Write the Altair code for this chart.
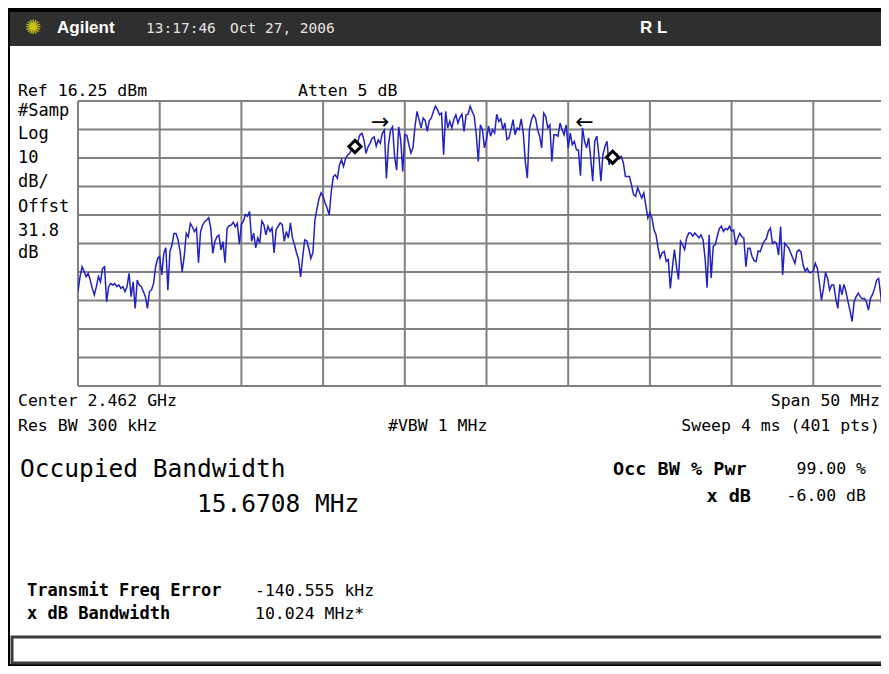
import altair as alt
import pandas as pd

# ---------------- data ----------------
START_MHZ = 2437.0          # center 2.462 GHz - 25 MHz
STEP_MHZ = 0.125            # 50 MHz span, 401 sweep points
REF_DBM = 16.25
DB_PER_DIV = 10.0

trace_div0 = [-50.5, -45.4, -41.9, -43.6, -45.4, -44.2, -46.6, -49.5, -51.8, -48.9,
              -45.4, -47.2, -42.5, -41.9, -54.2, -48.9, -47.8, -48.3, -47.8, -48.9,
              -48.3, -49.5, -48.9, -50.6, -48.9, -44.2, -52.4, -47.2, -56.5, -46.6,
              -48.3, -48.9, -50.6, -52.4, -56.5, -50.6, -50.0, -47.8, -41.9, -39.0]
trace_div1 = [-38.3, -44.8, -37.2, -35.2, -50.1, -36.6, -34.3, -30.2, -30.2, -32.5,
              -36.6, -43.7, -38.3, -30.2, -31.4, -26.7, -27.9, -29.6, -28.4, -40.5,
              -29.6, -27.3, -26.1, -25.5, -24.7, -28.4, -37.2, -33.1, -31.4, -30.8,
              -36.0, -33.1, -40.5, -28.4, -27.5, -27.3, -26.3, -27.9, -26.7, -34.0]
trace_div2 = [-27.0, -25.9, -23.6, -24.2, -22.5, -33.0, -30.1, -35.3, -31.8, -33.6,
              -25.9, -27.1, -30.7, -27.7, -29.5, -28.3, -37.1, -28.9, -27.7, -26.5,
              -27.1, -33.0, -29.5, -31.8, -26.5, -31.8, -34.2, -37.1, -39.4, -45.5,
              -38.5, -32.5, -32.8, -35.5, -39.0, -37.0, -25.5, -21.5, -18.0, -16.0]
trace_div3 = [-17.3, -19.6, -21.4, -23.7, -15.5, -10.3, -9.7, -10.9, -6.2, -4.4,
              -6.7, -3.9, -2.7, -2.1, -0.7, 0.0, 0.4, 2.0, 4.3, 4.9,
              2.6, -2.1, 0.2, 1.4, 3.1, 3.7, 0.4, 2.6, 1.4, 4.9,
              6.0, -10.9, 0.8, 6.0, 7.2, -3.3, -8.0, 7.2, 2.6, -8.5]
trace_div4 = [4.4, 4.2, 0.9, -2.0, -0.2, 7.4, 12.6, 9.7, 6.8, 10.3,
              9.4, 5.6, 9.4, 10.3, 12.6, 14.4, 13.2, 11.4, 12.0, -2.6,
              12.6, 6.8, 9.1, 6.8, 9.7, 11.4, 8.5, 10.5, 11.6, 5.6,
              11.4, 11.6, 14.4, 12.6, 10.9, 4.4, -5.0, 7.9, 6.2, -0.2]
trace_div5 = [2.7, 7.4, 3.9, 6.2, 5.0, 11.6, 9.1, 10.0, 6.2, 8.5,
              2.7, 3.3, 6.2, 9.7, 4.4, 6.8, 6.2, 10.0, 5.0, -5.0,
              -10.8, 6.2, 9.7, 11.4, 10.3, 6.2, 3.9, -0.2, 12.0, 10.9,
              6.8, 7.9, -5.0, 4.4, 4.4, 3.9, 8.5, 6.2, 4.4, 7.9]
trace_div6 = [-0.2, 5.0, 0.9, 2.1, -0.8, -1.0, -10.0, 6.8, 2.1, -0.2,
              3.3, -3.7, -11.9, 2.1, 3.9, -2.6, -11.9, -2.6, 0.3, 2.1,
              -6.1, -4.3, -3.7, -4.9, -2.6, -4.0, -3.2, -5.5, -10.2, -10.2,
              -10.2, -13.3, -16.6, -17.2, -14.1, -16.0, -17.8, -16.0, -20.4, -24.8]
trace_div7 = [-23.0, -24.8, -28.9, -30.7, -35.3, -38.8, -37.1, -36.5, -40.0, -39.4,
              -49.5, -42.3, -35.9, -41.8, -46.4, -33.0, -34.2, -35.9, -31.8, -30.1,
              -30.1, -31.2, -30.1, -30.9, -31.8, -30.7, -32.4, -38.8, -49.3, -30.7,
              -45.8, -34.7, -34.2, -31.2, -28.5, -27.7, -29.5, -28.5, -28.9, -27.7]
trace_div8 = [-29.4, -29.0, -34.3, -31.9, -30.2, -31.3, -31.9, -41.9, -35.4, -35.4,
              -38.3, -39.7, -40.1, -36.4, -36.6, -34.5, -32.9, -32.1, -29.4, -28.4,
              -33.7, -33.1, -33.7, -37.8, -27.8, -44.8, -33.7, -34.5, -35.4, -37.2,
              -38.9, -40.7, -36.6, -36.0, -36.8, -41.3, -43.4, -42.5, -43.9, -43.9]
trace_div9 = [-43.4, -40.7, -42.5, -47.7, -53.6, -49.5, -43.9, -46.0, -50.1, -48.3,
              -48.3, -53.0, -56.5, -48.1, -51.8, -48.1, -50.7, -54.2, -57.4, -61.1,
              -54.2, -52.4, -51.2, -52.4, -53.2, -53.0, -54.2, -57.1, -53.0, -51.6,
              -49.5, -46.6, -46.0, -51.8, -58.9, -45.4, -54.2, -53.0, -50.0, -52.0, -51.0]

level_dbm = (trace_div0 + trace_div1 + trace_div2 + trace_div3 + trace_div4 +
             trace_div5 + trace_div6 + trace_div7 + trace_div8 + trace_div9)
freq_mhz = [START_MHZ + STEP_MHZ * i for i in range(len(level_dbm))]

marker_freq = [2453.95, 2469.72]
marker_dbm = [0.3, -3.5]
arrow_freq = [2455.5, 2468.0]
arrow_dbm = [8.9, 8.9]
arrow_glyph = ["\u2192", "\u2190"]

grid_freq = [2437, 2442, 2447, 2452, 2457, 2462, 2467, 2472, 2477, 2482]
grid_dbm = [16.25, 6.25, -3.75, -13.75, -23.75, -33.75, -43.75, -53.75, -63.75, -73.75, -83.75]

# ---------------- layout ----------------
PLOT_LEFT, PLOT_TOP = 78, 101
PX_PER_DIV = 81.7
SVG_W = 873                 # keep the svg inside the page body so it is not shrunk
W, H = SVG_W - (PLOT_LEFT - 8), 285
TOTAL_H = 658
RIGHT = 8 + SVG_W           # right edge of the drawing on the page
X_MAX = START_MHZ + W / PX_PER_DIV * 5.0
MONO = "DejaVu Sans Mono"
SANS = "Liberation Sans"
GRID = "#808080"
BLUE = "#2222c4"

xscale = alt.Scale(domain=[START_MHZ, X_MAX], nice=False, zero=False)
yscale = alt.Scale(domain=[REF_DBM - 10 * DB_PER_DIV, REF_DBM], nice=False, zero=False)

one = pd.DataFrame({"k": [0]})


def px(X):
    return X - PLOT_LEFT


def py(Y):
    return Y - PLOT_TOP


def rect(X1, Y1, X2, Y2, fill, stroke=None, sw=0):
    kw = dict(fill=fill)
    if stroke is not None:
        kw.update(stroke=stroke, strokeWidth=sw)
    return alt.Chart(one).mark_rect(**kw).encode(
        x=alt.value(px(X1)), x2=alt.value(px(X2)),
        y=alt.value(py(Y1)), y2=alt.value(py(Y2)))


def label(text, X, Y, size, weight="normal", align="left", color="black", font=MONO):
    return alt.Chart(one).mark_text(
        text=text, align=align, baseline="middle", fontSize=size,
        fontWeight=weight, color=color, font=font).encode(
        x=alt.value(px(X)), y=alt.value(py(Y)))


layers = []
# screen panels
layers.append(rect(10, 12, RIGHT + 4, 46, "#2f2f2f"))
layers.append(rect(10, 46, RIGHT + 4, 664, "white"))
layers.append(rect(12, 637, RIGHT + 6, 663, "white", "#3c3c3c", 3))

# grid
layers.append(alt.Chart(pd.DataFrame({"f": grid_freq})).mark_rule(color=GRID, strokeWidth=2).encode(
    x=alt.X("f:Q", scale=xscale, axis=None)))
layers.append(alt.Chart(pd.DataFrame({"d": grid_dbm})).mark_rule(color=GRID, strokeWidth=2).encode(
    y=alt.Y("d:Q", scale=yscale, axis=None)))

# trace
trace_df = pd.DataFrame({"f": freq_mhz, "d": level_dbm})
layers.append(alt.Chart(trace_df).mark_line(color=BLUE, strokeWidth=1.5, clip=True).encode(
    x=alt.X("f:Q", scale=xscale, axis=None), y=alt.Y("d:Q", scale=yscale, axis=None)))

# markers and arrows
layers.append(alt.Chart(pd.DataFrame({"f": marker_freq, "d": marker_dbm})).mark_point(
    shape="diamond", size=150, filled=True, fill="white", stroke="black", strokeWidth=3, opacity=1).encode(
    x=alt.X("f:Q", scale=xscale, axis=None), y=alt.Y("d:Q", scale=yscale, axis=None)))
layers.append(alt.Chart(pd.DataFrame({"f": arrow_freq, "d": arrow_dbm, "g": arrow_glyph})).mark_text(
    fontSize=22, font="DejaVu Sans", color="black", baseline="middle").encode(
    x=alt.X("f:Q", scale=xscale, axis=None), y=alt.Y("d:Q", scale=yscale, axis=None), text="g:N"))

# header
layers.append(label("\u273a", 33, 28, 20, color="#c9c21c", font="DejaVu Sans", align="center"))
layers.append(label("Agilent", 57, 28, 17, weight="bold", color="white", font=SANS))
layers.append(label("13:17:46", 146, 29, 14.5, color="#e4e4e4"))
layers.append(label("Oct 27, 2006", 230, 29, 14.5, color="#e4e4e4"))
layers.append(label("R L", 640, 28, 17, weight="bold", color="white", font=SANS))

# settings text
layers.append(label("Ref 16.25 dBm", 18, 91, 16.5))
layers.append(label("Atten 5 dB", 298, 91, 16.5))
side = ["#Samp", "Log", "10", "dB/", "Offst", "31.8", "dB"]
side_y = [111, 134, 158, 182, 206.5, 230.5, 253]
for t, yy in zip(side, side_y):
    layers.append(label(t, 18, yy, 17))

layers.append(label("Center 2.462 GHz", 18, 401, 16.5))
layers.append(label("Span 50 MHz", RIGHT - 1, 401, 16.5, align="right"))
layers.append(label("Res BW 300 kHz", 18, 426, 16.5))
layers.append(label("#VBW 1 MHz", 388, 426, 16.5))
layers.append(label("Sweep 4 ms (401 pts)", RIGHT - 1, 426, 16.5, align="right"))

layers.append(label("Occupied Bandwidth", 20, 470, 24.5))
layers.append(label("15.6708 MHz", 197, 505, 24.5))
layers.append(label("Occ BW % Pwr", 613, 469, 18.5, weight="bold"))
layers.append(label("99.00 %", 866, 469, 16.5, align="right"))
layers.append(label("x dB", 751, 496, 18.5, weight="bold", align="right"))
layers.append(label("-6.00 dB", 866, 496, 16.5, align="right"))

layers.append(label("Transmit Freq Error", 27, 591, 17, weight="bold"))
layers.append(label("-140.555 kHz", 255, 591, 16.5))
layers.append(label("x dB Bandwidth", 27, 614, 17, weight="bold"))
layers.append(label("10.024 MHz*", 255, 614, 16.5))

chart = alt.layer(*layers).properties(
    width=W, height=H,
    autosize=alt.AutoSizeParams(type="none"),
    padding={"left": PLOT_LEFT - 8, "top": PLOT_TOP - 8, "right": 0,
             "bottom": TOTAL_H - (PLOT_TOP - 8) - H},
).configure(background="black").configure_view(stroke=None)

chart.save("out.html", embed_options={"renderer": "svg", "actions": False})
